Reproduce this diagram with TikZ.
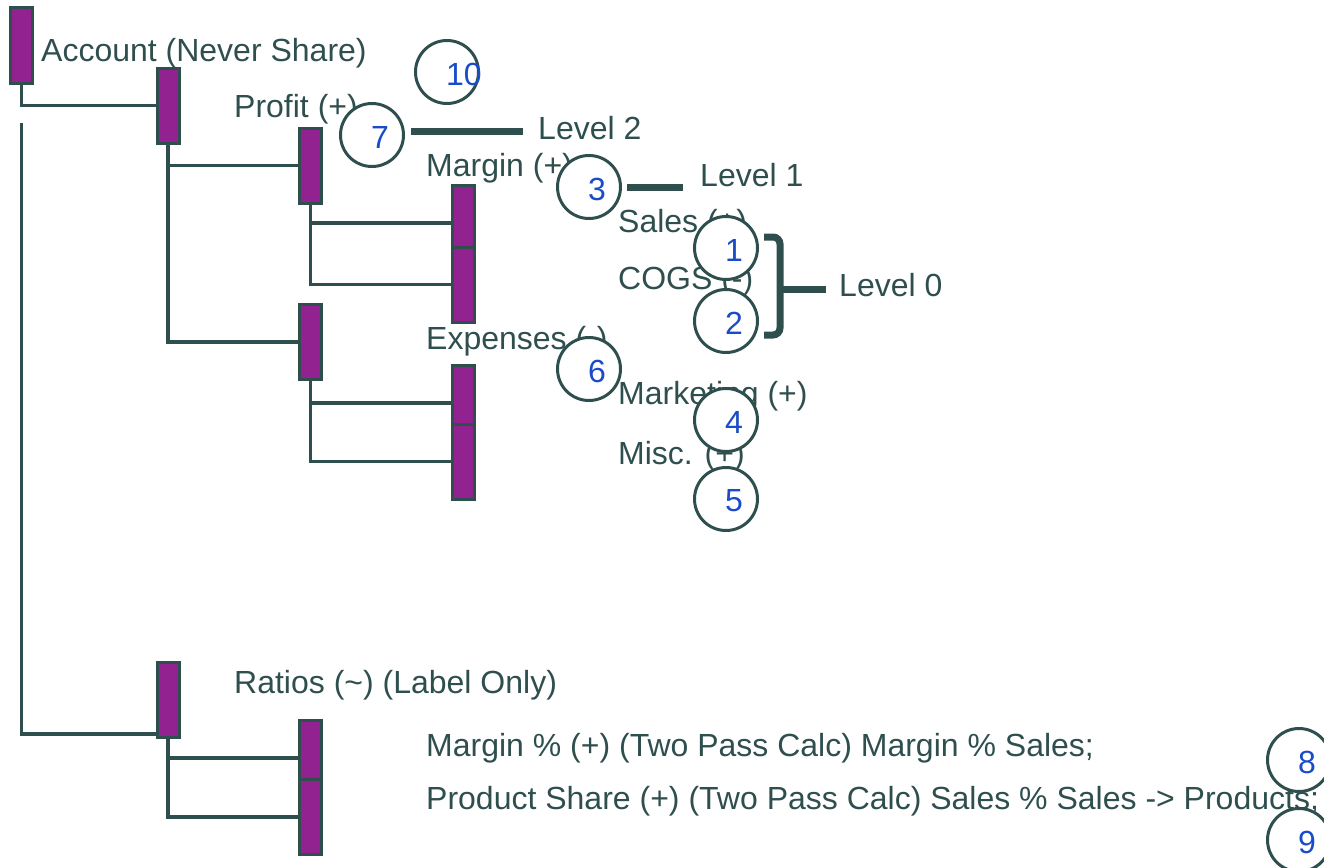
\documentclass[tikz,border=0pt]{standalone}
\usepackage{fontspec}
\setmainfont{Liberation Sans}
\usetikzlibrary{backgrounds}
\definecolor{ln}{HTML}{2F4F4F}
\definecolor{barfill}{HTML}{922290}
\definecolor{numc}{HTML}{1A4CC8}
\begin{document}
\begin{tikzpicture}[x=1pt,y=-1pt,
  bar/.style={draw=ln, fill=barfill, line width=3pt, minimum width=22pt, minimum height=75pt, inner sep=0pt},
  wire/.style={draw=ln, line width=3.2pt},
  txt/.style={anchor=base west, inner sep=0pt, text=ln, font=\fontsize{32}{36}\selectfont},
  circ/.style={circle, draw=ln, line width=3pt, fill=white, minimum size=63pt, inner sep=0pt},
  numtxt/.style={anchor=west, inner sep=0pt, text=numc, font=\fontsize{32}{36}\selectfont},
  lvl/.style={draw=ln, line width=7pt}]
\useasboundingbox (0,0) rectangle (1324,867);

% bars
\node[bar] (A)  at (21.5,45.5) {};
\node[bar] (B)  at (168,105.5) {};
\node[bar] (C)  at (310.5,165.5) {};
\node[bar] (F)  at (310.5,342) {};
\node[bar] (R)  at (168,700) {};
\node[bar] (MP) at (310.5,758) {};
\node[bar] (PS) at (310.5,817) {};
\node[bar] (D)  at (463,223) {};
\node[bar] (E)  at (463,284.5) {};
\node[bar] (G)  at (463,403) {};
\node[bar] (H)  at (463,461.5) {};

% connectors (behind the bars)
\coordinate (Agap) at (21.5,123);
\begin{scope}[on background layer]
\draw[wire] (A.south) |- (B.west);
\draw[wire] (Agap) |- ([yshift=5pt]R.south west);
\draw[wire] (B.south) |- (C.west);
\draw[wire] (B.south) |- (F.west);
\draw[wire] (C.south) |- (D.west);
\draw[wire] (C.south) |- (E.west);
\draw[wire] (F.south) |- (G.west);
\draw[wire] (F.south) |- (H.west);
\draw[wire] (R.south) |- (MP.west);
\draw[wire] (R.south) |- (PS.west);
\end{scope}

% texts
\node[txt] (tA)  at (41,62)   {Account (Never Share)};
\node[txt] (tB)  at (234,117) {Profit (+)};
\node[txt] (tC)  at (426,176) {Margin (+)};
\node[txt] (tD)  at (618,232) {Sales (+)};
\node[txt] (tE)  at (618,289) {COGS (-)};
\node[txt] (tF)  at (426,349) {Expenses (-)};
\node[txt] (tG)  at (618,404) {Marketing (+)};
\node[txt] (tH)  at (618,464) {Misc. (+)};
\node[txt] (tR)  at (234,693) {Ratios (\textasciitilde) (Label Only)};
\node[txt] (tMP) at (426,756) {Margin \% (+) (Two Pass Calc) Margin \% Sales;};
\node[txt] (tPS) at (426,809) {Product Share (+) (Two Pass Calc) Sales \% Sales -> Products;};
\node[txt] (L2)  at (538,139) {Level 2};
\node[txt] (L1)  at (700,186) {Level 1};
\node[txt] (L0)  at (839,296) {Level 0};

% circles
\node[circ] (c10) at (447,72) {};
\node[circ] (c7)  at (372,135) {};
\node[circ] (c3)  at (589,187) {};
\node[circ] (c1)  at (726,248) {};
\node[circ] (c2)  at (726,321) {};
\node[circ] (c6)  at (589,369) {};
\node[circ] (c4)  at (726,420) {};
\node[circ] (c5)  at (726,499) {};
\node[circ] (c8)  at (1299,760) {};
\node[circ] (c9)  at (1299,840) {};

\foreach \c/\t in {c10/10,c7/7,c3/3,c1/1,c2/2,c6/6,c4/4,c5/5,c8/8,c9/9}
  \node[numtxt] at ([shift={(-1pt,-2pt)}]\c.center) {\t};

% level markers
\draw[lvl] ([shift={(6pt,4pt)}]c7.east) -- ([shift={(-15pt,4pt)}]c7.east -| L2.west);
\draw[lvl] ([xshift=5pt]c3.east) -- ([xshift=-17pt]c3.east -| L1.west);
\coordinate (bt) at (764,237);
\coordinate (bb) at (764,335);
\coordinate (bm) at (780,289);
\draw[lvl, rounded corners=7pt] (bt) -| (bm) |- (bb);
\draw[lvl] (bm) -- ([xshift=-13pt]bm -| L0.west);
\end{tikzpicture}
\end{document}
